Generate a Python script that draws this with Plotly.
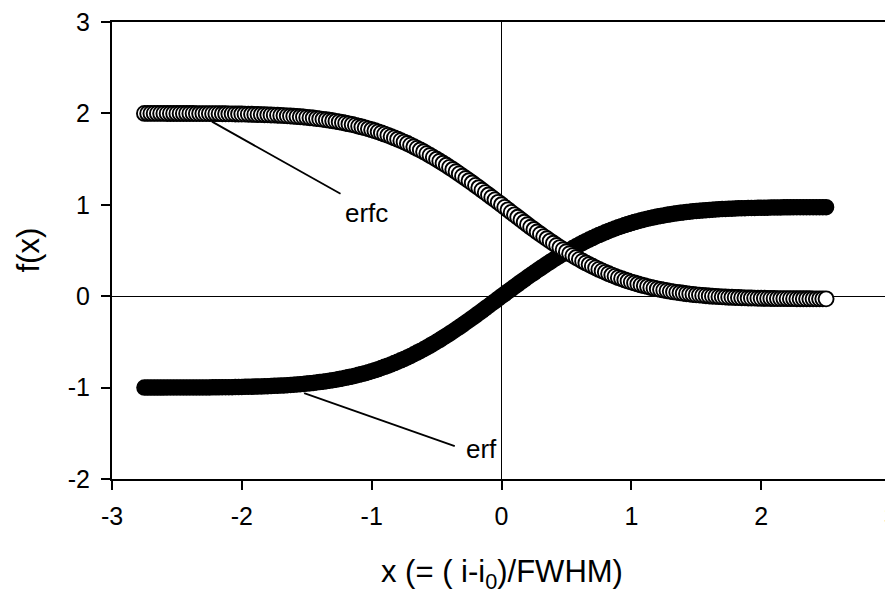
import plotly.graph_objects as go

# x grid (= (i - i0)/FWHM), rows of 10 values
x_vals = [
    -2.75, -2.725, -2.7, -2.675, -2.65, -2.625, -2.6, -2.575, -2.55, -2.525,
    -2.5, -2.475, -2.45, -2.425, -2.4, -2.375, -2.35, -2.325, -2.3, -2.275,
    -2.25, -2.225, -2.2, -2.175, -2.15, -2.125, -2.1, -2.075, -2.05, -2.025,
    -2.0, -1.975, -1.95, -1.925, -1.9, -1.875, -1.85, -1.825, -1.8, -1.775,
    -1.75, -1.725, -1.7, -1.675, -1.65, -1.625, -1.6, -1.575, -1.55, -1.525,
    -1.5, -1.475, -1.45, -1.425, -1.4, -1.375, -1.35, -1.325, -1.3, -1.275,
    -1.25, -1.225, -1.2, -1.175, -1.15, -1.125, -1.1, -1.075, -1.05, -1.025,
    -1.0, -0.975, -0.95, -0.925, -0.9, -0.875, -0.85, -0.825, -0.8, -0.775,
    -0.75, -0.725, -0.7, -0.675, -0.65, -0.625, -0.6, -0.575, -0.55, -0.525,
    -0.5, -0.475, -0.45, -0.425, -0.4, -0.375, -0.35, -0.325, -0.3, -0.275,
    -0.25, -0.225, -0.2, -0.175, -0.15, -0.125, -0.1, -0.075, -0.05, -0.025,
    0.0, 0.025, 0.05, 0.075, 0.1, 0.125, 0.15, 0.175, 0.2, 0.225,
    0.25, 0.275, 0.3, 0.325, 0.35, 0.375, 0.4, 0.425, 0.45, 0.475,
    0.5, 0.525, 0.55, 0.575, 0.6, 0.625, 0.65, 0.675, 0.7, 0.725,
    0.75, 0.775, 0.8, 0.825, 0.85, 0.875, 0.9, 0.925, 0.95, 0.975,
    1.0, 1.025, 1.05, 1.075, 1.1, 1.125, 1.15, 1.175, 1.2, 1.225,
    1.25, 1.275, 1.3, 1.325, 1.35, 1.375, 1.4, 1.425, 1.45, 1.475,
    1.5, 1.525, 1.55, 1.575, 1.6, 1.625, 1.65, 1.675, 1.7, 1.725,
    1.75, 1.775, 1.8, 1.825, 1.85, 1.875, 1.9, 1.925, 1.95, 1.975,
    2.0, 2.025, 2.05, 2.075, 2.1, 2.125, 2.15, 2.175, 2.2, 2.225,
    2.25, 2.275, 2.3, 2.325, 2.35, 2.375, 2.4, 2.425, 2.45, 2.475,
    2.5,
]

erf_vals = [
    -1.000, -1.000, -1.000, -1.000, -1.000, -1.000, -1.000, -0.999, -0.999, -0.999,
    -0.999, -0.999, -0.999, -0.999, -0.999, -0.999, -0.998, -0.998, -0.998, -0.998,
    -0.998, -0.997, -0.997, -0.997, -0.996, -0.996, -0.995, -0.995, -0.994, -0.994,
    -0.993, -0.992, -0.991, -0.990, -0.989, -0.988, -0.987, -0.986, -0.984, -0.983,
    -0.981, -0.980, -0.978, -0.976, -0.973, -0.971, -0.968, -0.966, -0.963, -0.960,
    -0.956, -0.953, -0.949, -0.944, -0.940, -0.935, -0.930, -0.925, -0.919, -0.913,
    -0.907, -0.900, -0.893, -0.885, -0.878, -0.869, -0.860, -0.851, -0.842, -0.831,
    -0.821, -0.810, -0.798, -0.786, -0.773, -0.760, -0.746, -0.732, -0.717, -0.702,
    -0.686, -0.670, -0.653, -0.635, -0.617, -0.599, -0.580, -0.560, -0.540, -0.519,
    -0.498, -0.477, -0.454, -0.432, -0.409, -0.386, -0.362, -0.338, -0.313, -0.288,
    -0.263, -0.238, -0.212, -0.186, -0.160, -0.133, -0.107, -0.080, -0.054, -0.027,
    0.000, 0.026, 0.052, 0.078, 0.104, 0.130, 0.156, 0.181, 0.207, 0.232,
    0.256, 0.281, 0.305, 0.329, 0.353, 0.376, 0.399, 0.421, 0.443, 0.465,
    0.486, 0.506, 0.526, 0.546, 0.565, 0.584, 0.602, 0.619, 0.636, 0.653,
    0.669, 0.684, 0.699, 0.714, 0.728, 0.741, 0.754, 0.766, 0.778, 0.789,
    0.800, 0.811, 0.821, 0.830, 0.839, 0.847, 0.856, 0.863, 0.871, 0.878,
    0.884, 0.890, 0.896, 0.902, 0.907, 0.912, 0.916, 0.921, 0.925, 0.929,
    0.932, 0.936, 0.939, 0.941, 0.944, 0.947, 0.949, 0.951, 0.953, 0.955,
    0.957, 0.958, 0.960, 0.961, 0.962, 0.963, 0.965, 0.966, 0.966, 0.967,
    0.968, 0.969, 0.969, 0.970, 0.970, 0.971, 0.971, 0.972, 0.972, 0.972,
    0.973, 0.973, 0.973, 0.973, 0.974, 0.974, 0.974, 0.974, 0.974, 0.974,
    0.974,
]

erfc_vals = [
    2.000, 2.000, 2.000, 2.000, 2.000, 2.000, 2.000, 1.999, 1.999, 1.999,
    1.999, 1.999, 1.999, 1.999, 1.999, 1.999, 1.998, 1.998, 1.998, 1.998,
    1.998, 1.997, 1.997, 1.997, 1.996, 1.996, 1.995, 1.995, 1.994, 1.994,
    1.993, 1.992, 1.991, 1.990, 1.989, 1.988, 1.987, 1.986, 1.984, 1.983,
    1.981, 1.980, 1.978, 1.976, 1.973, 1.971, 1.968, 1.966, 1.963, 1.960,
    1.956, 1.953, 1.949, 1.944, 1.940, 1.935, 1.930, 1.925, 1.919, 1.913,
    1.907, 1.900, 1.893, 1.885, 1.878, 1.869, 1.860, 1.851, 1.842, 1.831,
    1.821, 1.810, 1.798, 1.786, 1.773, 1.760, 1.746, 1.732, 1.717, 1.702,
    1.686, 1.670, 1.653, 1.635, 1.617, 1.599, 1.580, 1.560, 1.540, 1.519,
    1.498, 1.477, 1.454, 1.432, 1.409, 1.386, 1.362, 1.338, 1.313, 1.288,
    1.263, 1.238, 1.212, 1.186, 1.160, 1.133, 1.107, 1.080, 1.054, 1.027,
    1.000, 0.972, 0.945, 0.917, 0.890, 0.863, 0.836, 0.809, 0.782, 0.755,
    0.729, 0.703, 0.678, 0.652, 0.628, 0.603, 0.579, 0.555, 0.532, 0.509,
    0.487, 0.465, 0.444, 0.423, 0.403, 0.383, 0.364, 0.346, 0.328, 0.310,
    0.293, 0.277, 0.261, 0.246, 0.231, 0.217, 0.203, 0.191, 0.178, 0.166,
    0.154, 0.144, 0.133, 0.123, 0.114, 0.105, 0.096, 0.088, 0.080, 0.073,
    0.066, 0.060, 0.053, 0.047, 0.042, 0.037, 0.032, 0.027, 0.023, 0.019,
    0.015, 0.012, 0.009, 0.005, 0.003, 0.000, -0.002, -0.005, -0.007, -0.009,
    -0.011, -0.012, -0.014, -0.015, -0.017, -0.018, -0.019, -0.020, -0.021, -0.022,
    -0.023, -0.023, -0.024, -0.025, -0.025, -0.026, -0.026, -0.026, -0.027, -0.027,
    -0.027, -0.028, -0.028, -0.028, -0.028, -0.028, -0.029, -0.029, -0.029, -0.029,
    -0.029,
]

x_ticks = [-3, -2, -1, 0, 1, 2, 3]
y_ticks = [-2, -1, 0, 1, 2, 3]

FONT = "Liberation Sans, Arial, sans-serif"

fig = go.Figure()
fig.add_trace(go.Scatter(
    x=x_vals, y=erf_vals, mode="markers", name="erf",
    marker=dict(symbol="circle", size=15, color="black",
                line=dict(color="black", width=1.5)),
    showlegend=False, cliponaxis=False,
))
fig.add_trace(go.Scatter(
    x=x_vals, y=erfc_vals, mode="markers", name="erfc",
    marker=dict(symbol="circle", size=15, color="white",
                line=dict(color="black", width=1.9)),
    showlegend=False, cliponaxis=False,
))

# label leader lines
fig.add_shape(type="line", xref="x", yref="y", x0=-2.23, y0=1.91, x1=-1.24, y1=1.12,
              line=dict(color="black", width=1.8), layer="above")
fig.add_shape(type="line", xref="x", yref="y", x0=-1.52, y0=-1.06, x1=-0.36, y1=-1.64,
              line=dict(color="black", width=1.8), layer="above")
# labels
fig.add_annotation(x=-1.04, y=0.91, text="erfc", showarrow=False,
                   xanchor="center", yanchor="middle",
                   font=dict(family=FONT, size=26, color="black"))
fig.add_annotation(x=-0.155, y=-1.67, text="erf", showarrow=False,
                   xanchor="center", yanchor="middle",
                   font=dict(family=FONT, size=26, color="black"))

# axis titles
fig.add_annotation(xref="paper", yref="paper", x=(27.5 - 112) / 779, y=(479 - 250) / 457,
                   xanchor="center", yanchor="middle",
                   text="f(x)", textangle=-90, showarrow=False,
                   font=dict(family=FONT, size=31, color="black"))
fig.add_annotation(xref="paper", yref="paper", x=(502 - 112) / 779, y=(479 - 574) / 457,
                   xanchor="center", yanchor="middle",
                   text="x (= ( i-i<sub>0</sub>)/FWHM)", showarrow=False,
                   font=dict(family=FONT, size=31, color="black"))

axis_common = dict(
    showline=True, linecolor="black", linewidth=2, mirror=True,
    ticks="outside", ticklen=9, tickwidth=1.5, tickcolor="black",
    showgrid=False, zeroline=True, zerolinecolor="black", zerolinewidth=1.2,
    tickfont=dict(family=FONT, size=25, color="black"),
    automargin=False, ticklabeloverflow="allow",
)

fig.update_xaxes(range=[-3, 3], tickvals=x_ticks, ticktext=[str(v) for v in x_ticks],
                 ticklabelstandoff=5, **axis_common)
fig.update_yaxes(range=[-2, 3], tickvals=y_ticks, ticktext=[str(v) for v in y_ticks],
                 ticklabelstandoff=6, **axis_common)

# page body adds an 8 px offset, so the figure is 8 px smaller on each side
fig.update_layout(
    width=885, height=586,
    margin=dict(l=104, r=2, t=14, b=115),
    paper_bgcolor="white", plot_bgcolor="white",
    font=dict(family=FONT, color="black"),
)

fig.write_html("out.html")
